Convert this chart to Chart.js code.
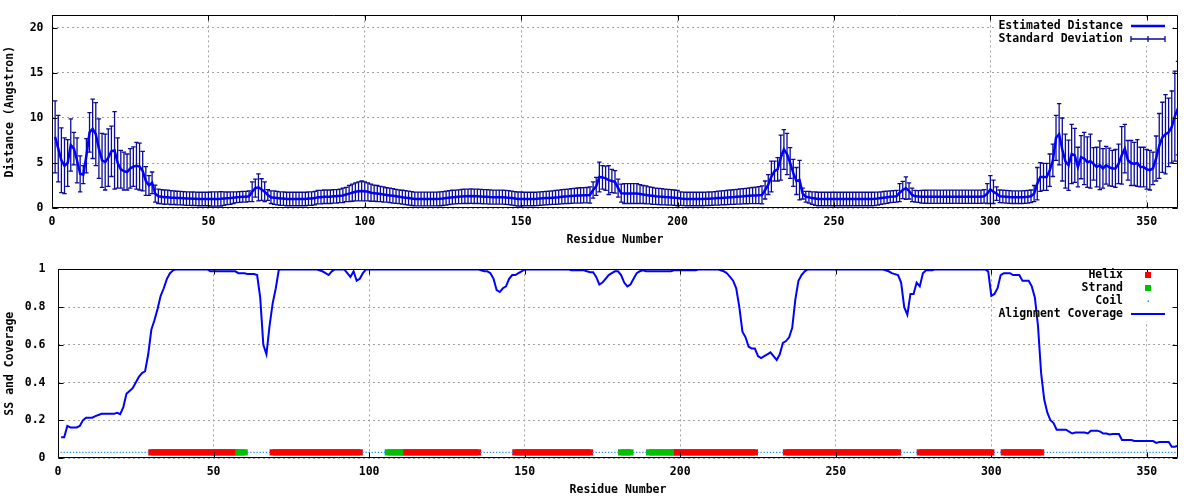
<!DOCTYPE html>
<html>
<head>
<meta charset="utf-8">
<script src="https://cdn.jsdelivr.net/npm/chart.js@4.4.0/dist/chart.umd.min.js"></script>
<style>
html,body{margin:0;padding:0;background:#fff;}
#wrap{position:relative;width:1200px;height:500px;background:#fff;}
canvas{position:absolute;left:0;}
</style>
</head>
<body>
<div id="wrap">
<canvas id="c1" width="1200" height="250" style="top:0px"></canvas>
<canvas id="c2" width="1200" height="250" style="top:250px"></canvas>
</div>
<script>
// ---------------- DATA ----------------
const firstResidue = 1;
const xTickValues = [0, 50, 100, 150, 200, 250, 300, 350];
const distTickValues = [0, 5, 10, 15, 20];
const covTickValues = [0, 0.2, 0.4, 0.6, 0.8, 1];
const covTickLabels = ["0", "0.2", "0.4", "0.6", "0.8", "1"];

// Estimated distance (Angstrom), residues 1..360
const distance = [
 7.9,6.6,5.3,4.7,5.0,7.0,6.6,5.3,3.8,3.7,
 5.8,8.4,8.8,8.2,6.6,5.3,5.1,5.6,6.3,6.4,
 5.0,4.3,4.1,4.0,4.4,4.6,4.7,4.6,4.1,3.0,
 2.5,2.8,1.6,1.3,1.25,1.2,1.2,1.15,1.15,1.1,
 1.1,1.08,1.05,1.05,1.03,1.02,1.0,1.0,1.0,1.0,
 1.0,1.0,1.0,1.02,1.05,1.08,1.1,1.15,1.2,1.22,
 1.25,1.25,1.3,1.8,2.2,2.3,2.05,1.8,1.45,1.2,
 1.15,1.1,1.05,1.05,1.0,1.0,1.0,1.0,1.0,1.0,
 1.0,1.05,1.05,1.1,1.2,1.2,1.25,1.25,1.25,1.3,
 1.3,1.35,1.4,1.5,1.6,1.7,1.8,1.85,1.9,1.85,
 1.8,1.7,1.65,1.6,1.55,1.5,1.45,1.4,1.35,1.3,
 1.25,1.2,1.15,1.1,1.05,1.0,1.0,1.0,1.0,1.0,
 1.0,1.0,1.0,1.02,1.05,1.1,1.15,1.2,1.22,1.25,
 1.28,1.3,1.3,1.32,1.3,1.3,1.28,1.25,1.25,1.22,
 1.2,1.2,1.2,1.2,1.18,1.15,1.1,1.05,1.0,1.0,
 1.0,1.0,1.0,1.0,1.02,1.05,1.08,1.1,1.12,1.15,
 1.18,1.2,1.25,1.28,1.3,1.33,1.36,1.38,1.4,1.42,
 1.43,1.45,2.0,2.4,3.45,3.4,3.3,3.1,3.0,2.9,
 2.2,1.65,1.6,1.6,1.6,1.6,1.6,1.55,1.5,1.45,
 1.4,1.35,1.3,1.27,1.25,1.22,1.2,1.18,1.15,1.1,
 1.05,1.02,1.0,1.0,1.0,1.0,1.0,1.0,1.02,1.03,
 1.05,1.07,1.1,1.12,1.15,1.18,1.2,1.22,1.25,1.28,
 1.3,1.33,1.36,1.38,1.4,1.43,1.45,2.0,2.6,3.5,
 4.1,4.3,5.6,6.5,6.0,5.0,3.9,3.0,3.1,1.6,
 1.25,1.2,1.1,1.05,1.0,1.0,1.0,1.0,1.0,1.0,
 1.0,1.0,1.0,1.0,1.0,1.0,1.0,1.0,1.0,1.0,
 1.0,1.0,1.02,1.05,1.1,1.15,1.2,1.25,1.27,1.3,
 1.7,2.0,2.2,1.9,1.45,1.3,1.28,1.25,1.25,1.25,
 1.25,1.25,1.25,1.25,1.25,1.25,1.25,1.25,1.25,1.25,
 1.25,1.25,1.25,1.25,1.25,1.25,1.25,1.3,1.6,2.05,
 1.8,1.6,1.3,1.28,1.25,1.22,1.2,1.2,1.2,1.2,
 1.22,1.25,1.3,1.6,2.7,3.45,3.45,3.45,4.2,5.3,
 7.8,8.2,6.5,5.2,4.75,6.0,5.85,4.55,5.65,5.5,
 5.1,5.2,4.9,4.55,4.75,4.4,4.75,4.55,4.4,4.4,
 4.9,5.85,6.6,5.3,5.0,4.9,5.0,4.55,4.55,4.3,
 4.2,4.4,5.5,6.9,7.85,8.2,8.4,9.0,10.2,11.1
];

// Standard deviation of the distance, residues 1..360
const stdDev = [
 4.0,3.7,3.6,3.1,2.6,2.9,1.8,2.5,2.0,1.0,
 1.9,2.2,3.3,3.5,3.3,3.0,3.1,3.2,2.8,4.3,
 2.8,2.1,2.1,2.0,2.2,2.2,2.6,2.6,2.2,1.6,
 1.1,1.2,0.95,0.8,0.8,0.8,0.78,0.78,0.76,0.76,
 0.75,0.75,0.75,0.75,0.75,0.75,0.75,0.75,0.75,0.75,
 0.8,0.8,0.8,0.8,0.75,0.7,0.7,0.65,0.6,0.6,
 0.6,0.6,0.6,1.1,1.0,1.5,1.2,1.1,0.6,0.7,
 0.75,0.75,0.75,0.75,0.75,0.75,0.75,0.75,0.75,0.75,
 0.75,0.75,0.75,0.75,0.75,0.75,0.75,0.75,0.75,0.75,
 0.75,0.75,0.8,0.8,0.9,0.95,1.0,1.05,1.1,1.05,
 1.0,0.95,0.9,0.9,0.85,0.85,0.8,0.8,0.8,0.78,
 0.77,0.77,0.77,0.77,0.77,0.77,0.77,0.77,0.77,0.77,
 0.77,0.77,0.77,0.77,0.77,0.77,0.77,0.77,0.77,0.77,
 0.8,0.8,0.8,0.8,0.8,0.8,0.8,0.8,0.8,0.8,
 0.78,0.78,0.78,0.78,0.78,0.78,0.78,0.78,0.78,0.78,
 0.75,0.75,0.75,0.75,0.75,0.75,0.75,0.75,0.75,0.75,
 0.78,0.78,0.8,0.8,0.8,0.82,0.82,0.84,0.85,0.85,
 0.85,0.9,0.9,1.0,1.65,1.3,1.35,1.6,1.3,1.25,
 1.0,1.0,1.1,1.1,1.1,1.1,1.1,1.05,1.0,1.0,
 0.95,0.95,0.9,0.9,0.9,0.88,0.88,0.86,0.85,0.85,
 0.75,0.75,0.75,0.75,0.75,0.75,0.75,0.75,0.75,0.75,
 0.75,0.76,0.77,0.78,0.79,0.8,0.8,0.82,0.83,0.84,
 0.85,0.86,0.88,0.9,0.92,0.94,1.0,1.0,1.1,1.7,
 1.1,1.3,2.5,2.2,2.3,1.7,1.5,1.5,2.2,0.6,
 0.6,0.65,0.7,0.75,0.75,0.75,0.75,0.75,0.75,0.75,
 0.75,0.75,0.75,0.75,0.75,0.75,0.75,0.75,0.75,0.75,
 0.75,0.75,0.75,0.72,0.7,0.7,0.68,0.66,0.65,0.65,
 1.0,0.95,1.25,0.9,0.75,0.65,0.65,0.7,0.72,0.73,
 0.73,0.73,0.73,0.73,0.73,0.73,0.73,0.73,0.73,0.73,
 0.73,0.73,0.73,0.73,0.73,0.73,0.73,0.75,1.1,1.55,
 1.3,0.75,0.7,0.7,0.7,0.7,0.7,0.7,0.7,0.7,
 0.7,0.7,0.7,0.9,1.8,1.6,1.5,1.5,1.8,1.8,
 2.5,3.4,3.5,3.0,2.8,3.3,3.0,2.2,2.4,2.9,
 2.8,3.0,1.8,2.2,2.7,2.2,2.1,2.1,2.0,2.1,
 2.2,3.2,2.7,2.2,2.5,2.4,2.6,2.2,2.2,2.2,
 2.2,1.8,2.5,3.6,3.9,4.4,3.8,4.0,5.0,5.2
];

// Alignment coverage, residues 1..360
const coverage = [
 0.11,0.11,0.17,0.162,0.162,0.162,0.17,0.2,0.214,0.214,
 0.214,0.222,0.228,0.234,0.234,0.234,0.234,0.234,0.24,0.232,
 0.27,0.34,0.355,0.37,0.4,0.43,0.45,0.46,0.55,0.68,
 0.73,0.79,0.86,0.9,0.95,0.98,0.995,1,1,1,
 1,1,1,1,1,1,1,1,0.99,0.99,
 0.99,0.99,0.99,0.99,0.99,0.99,0.99,0.98,0.98,0.98,
 0.975,0.975,0.975,0.97,0.85,0.6,0.55,0.7,0.82,0.9,
 1,1,1,1,1,1,1,1,1,1,
 1,1,1,0.995,0.99,0.98,0.97,0.99,1,1,
 1,1,0.98,0.96,0.99,0.94,0.95,0.98,1,1,
 1,1,1,1,1,1,1,1,1,1,
 1,1,1,1,1,1,1,1,1,1,
 1,1,1,1,1,1,1,1,1,1,
 1,1,1,1,1,0.995,0.99,0.99,0.98,0.95,
 0.89,0.88,0.9,0.91,0.95,0.97,0.97,0.98,0.99,1,
 1,1,1,1,1,1,1,1,1,1,
 1,1,1,1,0.995,0.995,0.995,0.995,0.995,0.99,
 0.985,0.985,0.96,0.92,0.93,0.95,0.97,0.98,0.99,0.99,
 0.97,0.93,0.91,0.92,0.95,0.98,0.99,0.995,0.99,0.99,
 0.99,0.99,0.99,0.99,0.99,0.99,0.99,0.995,0.995,0.995,
 0.995,0.995,0.995,0.995,0.995,1,1,1,1,1,
 1,1,0.995,0.99,0.98,0.96,0.94,0.9,0.8,0.67,
 0.64,0.59,0.58,0.58,0.54,0.53,0.54,0.55,0.56,0.54,
 0.52,0.55,0.61,0.62,0.64,0.69,0.84,0.94,0.97,0.99,
 1,1,1,1,1,1,1,1,1,1,
 1,1,1,1,1,1,1,1,1,1,
 1,1,1,1,1,0.995,0.99,0.98,0.975,0.97,
 0.93,0.8,0.76,0.87,0.87,0.93,0.91,0.98,0.995,0.995,
 0.995,1,1,1,1,1,1,1,1,1,
 1,1,1,1,1,1,1,1,0.99,0.86,
 0.87,0.9,0.97,0.98,0.98,0.98,0.97,0.97,0.97,0.94,
 0.94,0.94,0.91,0.85,0.7,0.45,0.31,0.24,0.2,0.185,
 0.15,0.15,0.15,0.15,0.14,0.13,0.135,0.135,0.135,0.135,
 0.13,0.145,0.145,0.145,0.14,0.13,0.13,0.125,0.127,0.127,
 0.127,0.095,0.095,0.095,0.095,0.09,0.09,0.09,0.09,0.09,
 0.09,0.09,0.08,0.085,0.085,0.085,0.085,0.06,0.06,0.065
];

// Secondary structure as runs: [type, number of residues]  (H helix, E strand, C coil)
const ssRuns = [
 ["C",29],["H",28],["E",3],["C",8],["H",29],["C",8],["E",5],["H",25],
 ["C",11],["H",25],["C",9],["E",4],["C",5],["E",8],["H",27],["C",9],
 ["H",37],["C",6],["H",24],["C",3],["H",13],["C",44]
];
const ssLevel = 0.03;

// ---------------- STYLE ----------------
const FONT_FAMILY = "'DejaVu Sans Mono', 'Liberation Mono', monospace";
const FONT = {family: FONT_FAMILY, size: 11.5, weight: 'bold'};
const LINE_BLUE = '#0000FF';
const SD_BLUE = '#0A0A96';
const GRID = '#A0A0A0';
const HELIX_RED = '#FF0000';
const STRAND_GREEN = '#00C000';
const COIL_BLUE = '#1E8CFF';

// ---------------- DERIVED ----------------
const residues = distance.map((_, i) => firstResidue + i);
const ssSeq = [];
ssRuns.forEach(([t, n]) => { for (let k = 0; k < n; k++) ssSeq.push(t); });
const ssPoints = t => ssSeq.map((s, i) => s === t ? {x: residues[i], y: ssLevel} : null).filter(Boolean);

// ---------------- PLUGINS ----------------
const framePlugin = {
  id: 'frame',
  afterDatasetsDraw(chart, args, opts) {
    const {ctx, chartArea: a, scales} = chart;
    const x = scales.x, y = scales.y;
    ctx.save();
    ctx.strokeStyle = '#000';
    ctx.lineWidth = 1;
    ctx.beginPath();
    const L = Math.round(a.left) + 0.5, R = Math.round(a.right) - 0.5;
    const T = Math.round(a.top) + 0.5, B = Math.round(a.bottom) - 0.5;
    ctx.rect(L, T, R - L, B - T);
    const tl = 5;
    xTickValues.forEach(v => {
      const px = Math.round(x.getPixelForValue(v)) + 0.5;
      ctx.moveTo(px, B); ctx.lineTo(px, B - tl);
      ctx.moveTo(px, T); ctx.lineTo(px, T + tl);
    });
    opts.yTicks.forEach(v => {
      const py = Math.round(y.getPixelForValue(v)) + 0.5;
      ctx.moveTo(L, py); ctx.lineTo(L + tl, py);
      ctx.moveTo(R, py); ctx.lineTo(R - tl, py);
    });
    ctx.stroke();
    ctx.restore();
  }
};

const errorBarPlugin = {
  id: 'errorBars',
  beforeDatasetsDraw(chart) {
    const {ctx, chartArea: a, scales: {x, y}} = chart;
    const ds = chart.data.datasets.find(d => d.label === 'Standard Deviation');
    const cap = 2.2;
    ctx.save();
    ctx.beginPath();
    ctx.rect(a.left, a.top, a.right - a.left, a.bottom - a.top);
    ctx.clip();
    ctx.strokeStyle = SD_BLUE;
    ctx.lineWidth = 1.3;
    ctx.beginPath();
    ds.data.forEach(p => {
      const px = x.getPixelForValue(p.x);
      const yt = y.getPixelForValue(p.y + p.sd);
      const yb = y.getPixelForValue(p.y - p.sd);
      ctx.moveTo(px, yt); ctx.lineTo(px, yb);
      ctx.moveTo(px - cap, yt); ctx.lineTo(px + cap, yt);
      ctx.moveTo(px - cap, yb); ctx.lineTo(px + cap, yb);
    });
    ctx.stroke();
    ctx.restore();
  }
};

// key: white box goes under the data (like gnuplot), texts and samples on top
const keyPlugin = {
  id: 'key',
  beforeDatasetsDraw(chart, args, opts) {
    const {ctx} = chart;
    ctx.save();
    ctx.fillStyle = '#fff';
    ctx.fillRect(995, opts.top - 7, 178, opts.items.length * 13 + 1);
    ctx.restore();
  },
  afterDraw(chart, args, opts) {
    const {ctx} = chart;
    const textRight = 1123, sx0 = 1131, sx1 = 1165, sxc = 1148;
    ctx.save();
    ctx.font = `bold ${FONT.size}px ${FONT_FAMILY}`;
    ctx.textAlign = 'right';
    ctx.textBaseline = 'middle';
    opts.items.forEach((label, i) => {
      const yy = opts.top + i * 13;
      const ds = chart.data.datasets.find(d => d.label === label);
      ctx.fillStyle = '#000';
      ctx.fillText(label, textRight, yy + 0.5);
      const kind = ds.keyKind;
      if (kind === 'line') {
        ctx.strokeStyle = ds.borderColor; ctx.lineWidth = ds.borderWidth;
        ctx.beginPath(); ctx.moveTo(sx0, yy); ctx.lineTo(sx1, yy); ctx.stroke();
      } else if (kind === 'errorbar') {
        ctx.strokeStyle = SD_BLUE; ctx.lineWidth = 1.3;
        ctx.beginPath();
        ctx.moveTo(sx0, yy); ctx.lineTo(sx1, yy);
        ctx.moveTo(sx0, yy - 3); ctx.lineTo(sx0, yy + 3);
        ctx.moveTo(sx1, yy - 3); ctx.lineTo(sx1, yy + 3);
        ctx.moveTo(sxc, yy - 3); ctx.lineTo(sxc, yy + 3);
        ctx.stroke();
      } else if (kind === 'square') {
        ctx.fillStyle = ds.pointBackgroundColor;
        ctx.fillRect(sxc - 3, yy - 3, 6, 6);
      } else if (kind === 'dot') {
        ctx.fillStyle = ds.pointBackgroundColor;
        ctx.fillRect(sxc - 0.5, yy - 0.5, 1.5, 1.5);
      }
    });
    ctx.restore();
  }
};

function xScale() {
  return {
    type: 'linear', min: 0, max: 360,
    afterBuildTicks: s => { s.ticks = xTickValues.map(v => ({value: v})); },
    afterFit: s => { s.height = 42; },
    grid: {color: GRID, lineWidth: 1, drawTicks: false},
    border: {display: false, dash: [2, 3]},
    ticks: {font: FONT, color: '#000', padding: 7, maxRotation: 0, callback: v => String(v)},
    title: {display: true, text: 'Residue Number', font: FONT, color: '#000', padding: {top: 0, bottom: 3}}
  };
}

// ---------------- CHART 1: distance ----------------
new Chart(document.getElementById('c1'), {
  type: 'line',
  data: {
    datasets: [
      {
        label: 'Estimated Distance', keyKind: 'line',
        data: residues.map((r, i) => ({x: r, y: distance[i]})),
        borderColor: LINE_BLUE, borderWidth: 2.5, pointRadius: 0, tension: 0, order: 0
      },
      {
        label: 'Standard Deviation', keyKind: 'errorbar',
        data: residues.map((r, i) => ({x: r, y: distance[i], sd: stdDev[i]})),
        showLine: false, pointRadius: 0, borderWidth: 0, order: 1
      }
    ]
  },
  options: {
    responsive: false, animation: false, devicePixelRatio: 1,
    layout: {padding: {left: 0, right: 22, top: 14, bottom: 0}},
    scales: {
      x: xScale(),
      y: {
        type: 'linear', min: 0, max: 21.4,
        afterBuildTicks: s => { s.ticks = distTickValues.map(v => ({value: v})); },
        afterFit: s => { s.width = 52; },
        grid: {color: GRID, lineWidth: 1, drawTicks: false},
        border: {display: false, dash: [2, 3]},
        ticks: {font: FONT, color: '#000', padding: 8.5, callback: v => String(v)},
        title: {display: true, text: 'Distance (Angstron)', font: FONT, color: '#000', padding: {top: 3, bottom: 0}}
      }
    },
    plugins: {
      legend: {display: false}, tooltip: {enabled: false},
      frame: {yTicks: distTickValues},
      key: {top: 26, items: ['Estimated Distance', 'Standard Deviation']}
    }
  },
  plugins: [keyPlugin, errorBarPlugin, framePlugin]
});

// ---------------- CHART 2: SS and coverage ----------------
new Chart(document.getElementById('c2'), {
  type: 'line',
  data: {
    datasets: [
      {
        label: 'Helix', keyKind: 'square',
        data: ssPoints('H'), showLine: false,
        pointStyle: 'rect', pointRadius: 4.4, pointBorderWidth: 0,
        pointBackgroundColor: HELIX_RED, borderColor: HELIX_RED, order: 3
      },
      {
        label: 'Strand', keyKind: 'square',
        data: ssPoints('E'), showLine: false,
        pointStyle: 'rect', pointRadius: 4.4, pointBorderWidth: 0,
        pointBackgroundColor: STRAND_GREEN, borderColor: STRAND_GREEN, order: 2
      },
      {
        label: 'Coil', keyKind: 'dot',
        data: ssPoints('C'), showLine: false,
        pointStyle: 'rect', pointRadius: 0.9, pointBorderWidth: 0,
        pointBackgroundColor: COIL_BLUE, borderColor: COIL_BLUE, order: 1
      },
      {
        label: 'Alignment Coverage', keyKind: 'line',
        data: residues.map((r, i) => ({x: r, y: coverage[i]})),
        borderColor: LINE_BLUE, borderWidth: 2, pointRadius: 0, tension: 0, order: 0
      }
    ]
  },
  options: {
    responsive: false, animation: false, devicePixelRatio: 1,
    layout: {padding: {left: 0, right: 22, top: 13, bottom: 0}},
    scales: {
      x: xScale(),
      y: {
        type: 'linear', min: 0, max: 1,
        afterBuildTicks: s => { s.ticks = covTickValues.map(v => ({value: v})); },
        afterFit: s => { s.width = 58; },
        grid: {color: GRID, lineWidth: 1, drawTicks: false},
        border: {display: false, dash: [2, 3]},
        ticks: {font: FONT, color: '#000', padding: 12.5,
          callback: (v, i) => covTickLabels[covTickValues.indexOf(v)] ?? String(v)},
        title: {display: true, text: 'SS and Coverage', font: FONT, color: '#000', padding: {top: 3, bottom: 0}}
      }
    },
    plugins: {
      legend: {display: false}, tooltip: {enabled: false},
      frame: {yTicks: covTickValues},
      key: {top: 25, items: ['Helix', 'Strand', 'Coil', 'Alignment Coverage']}
    }
  },
  plugins: [keyPlugin, framePlugin]
});
</script>
</body>
</html>
